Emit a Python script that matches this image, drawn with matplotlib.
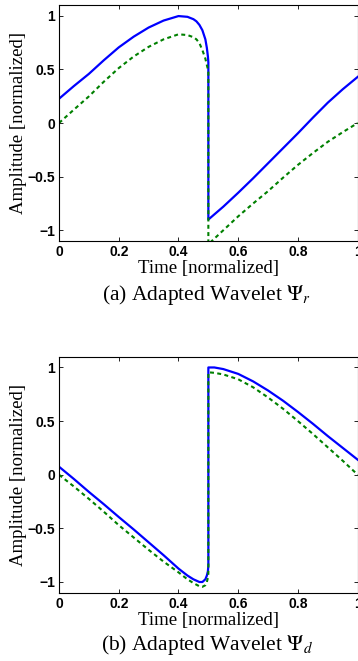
import matplotlib
matplotlib.use('Agg')
import matplotlib.pyplot as plt

plt.rcParams['mathtext.fontset'] = 'stix'

# Panel (a): adapted wavelet Psi_r
t_a = [0, 0.05, 0.1, 0.15, 0.2, 0.25, 0.3, 0.35, 0.4, 0.43, 0.45, 0.46, 0.47, 0.48,
       0.49, 0.495, 0.4985, 0.5, 0.5, 0.55, 0.6, 0.65, 0.7, 0.75, 0.8, 0.85, 0.9, 0.95, 1.0]
blue_a = [0.226, 0.345, 0.458, 0.585, 0.705, 0.805, 0.89, 0.955, 0.997, 0.99, 0.968, 0.948,
          0.915, 0.865, 0.78, 0.70, 0.62, 0.566, -0.90, -0.78, -0.65, -0.515, -0.375,
          -0.235, -0.095, 0.05, 0.19, 0.315, 0.43]
green_a = [0.0, 0.125, 0.248, 0.385, 0.512, 0.62, 0.71, 0.78, 0.827, 0.82, 0.80, 0.78,
           0.745, 0.68, 0.60, 0.54, 0.50, 0.47, -1.13, -1.0, -0.87, -0.75, -0.635,
           -0.51, -0.39, -0.28, -0.175, -0.085, 0.0]

# Panel (b): adapted wavelet Psi_d
t_b = [0, 0.05, 0.1, 0.15, 0.2, 0.25, 0.3, 0.35, 0.4, 0.43, 0.45, 0.47, 0.48, 0.49,
       0.495, 0.4985, 0.5, 0.5, 0.52, 0.55, 0.6, 0.65, 0.7, 0.75, 0.8, 0.85, 0.9, 0.95, 1.0]
blue_b = [0.075, -0.04, -0.16, -0.275, -0.394, -0.51, -0.63, -0.75, -0.875, -0.94, -0.975,
          -1.0, -1.0, -0.975, -0.94, -0.90, -0.85, 1.0, 1.0, 0.985, 0.94, 0.87, 0.785,
          0.69, 0.585, 0.475, 0.36, 0.25, 0.14]
green_b = [0.0, -0.11, -0.225, -0.345, -0.47, -0.585, -0.70, -0.81, -0.91, -0.975, -1.01,
           -1.04, -1.045, -1.03, -1.0, -0.96, -0.92, 0.955, 0.95, 0.935, 0.89, 0.815, 0.72,
           0.615, 0.50, 0.38, 0.255, 0.13, 0.0]

x_ticks = [0, 0.2, 0.4, 0.6, 0.8, 1]
x_labels = ['0', '0.2', '0.4', '0.6', '0.8', '1']
y_ticks = [-1, -0.5, 0, 0.5, 1]
y_labels = ['\u22121', '\u22120.5', '0', '0.5', '1']

fig = plt.figure(figsize=(3.58, 6.61), dpi=100)
ax_a = fig.add_axes([0.1648, 0.6354, 0.8344, 0.357])
ax_b = fig.add_axes([0.1648, 0.1033, 0.8344, 0.357])

panels = [(ax_a, t_a, blue_a, green_a, r'(a) Adapted Wavelet $\Psi_r$', 0.553),
          (ax_b, t_b, blue_b, green_b, r'(b) Adapted Wavelet $\Psi_d$', 0.024)]

for ax, t, blue, green, caption, cap_y in panels:
    ax.plot(t, blue, color='#0000ff', lw=1.6)
    ax.plot(t, green, color='#008000', lw=1.5, dashes=(1.9, 1.6))
    ax.set_xlim(0, 1)
    ax.set_ylim(-1.1, 1.1)
    ax.set_xticks(x_ticks)
    ax.set_xticklabels(x_labels, fontfamily='Liberation Sans', fontweight='bold', fontsize=10)
    ax.set_yticks(y_ticks)
    ax.set_yticklabels(y_labels, fontfamily='Liberation Sans', fontweight='bold', fontsize=10)
    ax.tick_params(direction='in', length=3, width=0.6, top=True, right=True, pad=3)
    for s in ax.spines.values():
        s.set_linewidth(0.8)
    ax.set_xlabel('Time [normalized]', fontfamily='Liberation Serif', fontsize=13.5, labelpad=0.5)
    ax.set_ylabel('Amplitude [normalized]', fontfamily='Liberation Serif', fontsize=13.5, labelpad=0)
    fig.text(0.577, cap_y, caption, fontfamily='Liberation Serif', fontsize=15.5,
             ha='center', va='center')

fig.savefig('out.png', dpi=100)
